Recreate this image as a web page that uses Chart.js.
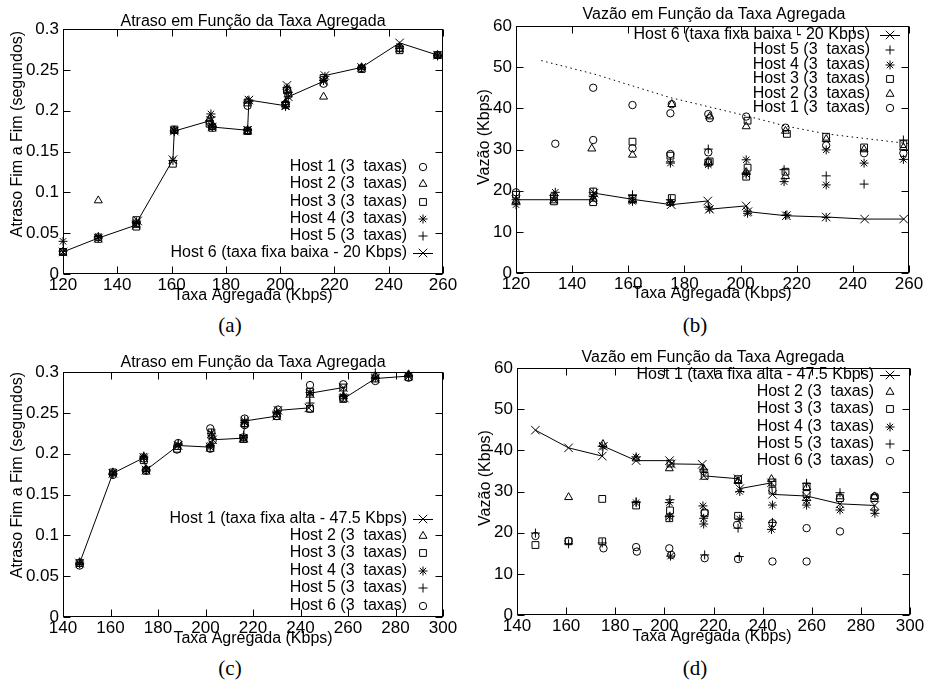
<!DOCTYPE html>
<html><head><meta charset="utf-8">
<script src="https://cdn.jsdelivr.net/npm/chart.js@4/dist/chart.umd.min.js"></script>
<style>
html,body{margin:0;padding:0;background:#fff}
body{width:926px;height:685px;overflow:hidden;position:relative}
canvas{position:absolute}
.cap{position:absolute;font-family:"Liberation Serif","Times New Roman",serif;font-size:21px;color:#000;transform:translate(-50%,-50%);white-space:nowrap}
</style></head><body>
<canvas id="ca" width="463" height="310" style="left:0;top:0"></canvas>
<canvas id="cb" width="463" height="310" style="left:463px;top:0"></canvas>
<canvas id="cc" width="463" height="310" style="left:0;top:340px"></canvas>
<canvas id="cd" width="463" height="310" style="left:463px;top:340px"></canvas>
<div class="cap" style="left:230px;top:325px">(a)</div>
<div class="cap" style="left:695px;top:325px">(b)</div>
<div class="cap" style="left:230px;top:668px">(c)</div>
<div class="cap" style="left:695px;top:668px">(d)</div>
<script>
// ---------- tick labels ----------
const xTicksAB = [120,140,160,180,200,220,240,260];
const xTicksCD = [140,160,180,200,220,240,260,280,300];
const yTicksDelay = [0,0.05,0.1,0.15,0.2,0.25,0.3];
const yTicksRate = [0,10,20,30,40,50,60];

// ---------- texts ----------
const titleDelay = 'Atraso em Função da Taxa Agregada';
const titleRate = 'Vazão em Função da Taxa Agregada';
const xLabel = 'Taxa Agregada (Kbps)';
const yLabelDelay = 'Atraso Fim a Fim (segundos)';
const yLabelRate = 'Vazão (Kbps)';
const labelsLow = ['Host 1 (3  taxas)','Host 2 (3  taxas)','Host 3 (3  taxas)','Host 4 (3  taxas)','Host 5 (3  taxas)','Host 6 (taxa fixa baixa - 20 Kbps)'];
const labelsHigh = ['Host 1 (taxa fixa alta - 47.5 Kbps)','Host 2 (3  taxas)','Host 3 (3  taxas)','Host 4 (3  taxas)','Host 5 (3  taxas)','Host 6 (3  taxas)'];

// ---------- (a) delay, host 6 fixed low ----------
const aH1 = [[120,0.027],[133,0.045],[147,0.062],[161,0.176],[174,0.186],[175,0.181],[188,0.176],[188,0.206],[202,0.208],[203,0.219],[216,0.233],[230,0.252],[244,0.277],[258,0.268]];
const aH2 = [[120,0.027],[133,0.090],[147,0.060],[161,0.175],[174,0.190],[175,0.180],[188,0.175],[188,0.212],[202,0.210],[203,0.225],[216,0.217],[230,0.253],[244,0.275],[258,0.268]];
const aH3 = [[120,0.027],[133,0.043],[147,0.058],[147,0.066],[160.5,0.135],[161,0.177],[174,0.184],[175,0.179],[188,0.175],[188,0.210],[202,0.207],[202.5,0.225],[216,0.240],[230,0.251],[244,0.274],[258,0.268]];
const aH4 = [[120,0.040],[133,0.046],[147,0.063],[160.5,0.139],[161,0.176],[174.5,0.196],[175,0.181],[188,0.177],[188.5,0.213],[202,0.205],[202.5,0.228],[216,0.237],[230,0.253],[244,0.279],[258,0.268]];
const aH5 = [[120,0.028],[133,0.044],[147,0.064],[161,0.174],[174.5,0.192],[175,0.180],[188,0.176],[188.5,0.211],[202,0.210],[203,0.217],[216.5,0.242],[230,0.252],[244,0.276],[258,0.267]];
const aH6 = [[120,0.027],[133,0.044],[147,0.060],[147.5,0.065],[160.5,0.140],[161,0.175],[174.5,0.188],[175,0.180],[188,0.176],[188.5,0.213],[202,0.206],[202.5,0.231],[203,0.217],[216,0.236],[216.5,0.243],[230,0.253],[244,0.283],[258,0.268]];

// ---------- (b) throughput, host 6 fixed low ----------
const bH1 = [[120,19.6],[134,31.4],[147.5,45.0],[147.5,32.3],[161.5,40.8],[161.5,30.3],[175,38.8],[175.5,41.0],[175,28.9],[188.5,38.6],[189,37.6],[188.5,29.3],[202,38.0],[216,35.3],[230.5,31.0],[244,29.1],[258,29.1]];
const bH2 = [[120,17.5],[133.5,17.6],[147,30.2],[147.5,18.0],[161.5,28.7],[161.5,17.6],[175.5,41.0],[175,17.0],[189,38.0],[188.5,27.0],[202,35.6],[202,24.5],[216,34.5],[216,23.5],[230.5,32.5],[244,30.0],[258,30.5]];
const bH3 = [[120,19.0],[133.5,18.4],[133.5,17.4],[147.5,19.8],[147.5,17.2],[161.5,31.9],[161.5,18.0],[175,28.5],[175.5,18.2],[188.5,26.8],[189,27.1],[202,23.4],[202.5,25.6],[202.5,37.0],[216.5,33.8],[216,24.6],[230.5,33.1],[244,30.5],[258,31.3]];
const bH4 = [[120,16.6],[134,19.6],[147.5,18.6],[161.5,17.4],[175,26.7],[175,17.1],[188.5,26.3],[189,15.5],[202,27.5],[202,24.0],[202.5,14.5],[215.5,22.2],[216.5,14.1],[230.5,29.9],[230.5,21.4],[244,26.7],[258,27.6]];
const bH5 = [[120,17.8],[133.5,18.8],[147.5,19.6],[161.5,19.0],[175,17.8],[175,27.0],[188.5,30.1],[188.5,16.0],[202,24.3],[202.5,15.0],[215.5,25.1],[216,14.0],[230.5,23.6],[230.5,13.5],[244,21.6],[258,32.3]];
const bH6 = [[120,17.8],[133.5,17.8],[147.5,17.8],[147.8,19.4],[161.5,17.9],[175.3,16.6],[188.3,17.5],[188.9,15.5],[202,16.3],[202.6,14.9],[216.3,13.9],[230.5,13.6],[244.2,13.1],[258.1,13.1]];
const bRef = [[129,51.6],[148,48.3],[175,42.6],[202,38.2],[216,35.7],[230.5,33.8],[260,31.4]];

// ---------- (c) delay, host 1 fixed high ----------
const cH1 = [[147,0.066],[161,0.176],[174,0.195],[175,0.180],[188.5,0.210],[202,0.208],[203,0.217],[216,0.219],[216.5,0.240],[230,0.246],[230.5,0.253],[243.5,0.256],[244,0.274],[258,0.281],[258.5,0.268],[271.5,0.292],[285.5,0.295]];
const cH2 = [[147,0.067],[161,0.177],[174,0.196],[175,0.181],[188,0.208],[202,0.210],[202.5,0.222],[216,0.217],[216.5,0.236],[230,0.248],[244,0.272],[258,0.270],[271.5,0.295],[285.5,0.297]];
const cH3 = [[147,0.066],[161,0.177],[174,0.192],[175,0.179],[188,0.206],[202,0.207],[202.5,0.226],[216,0.218],[216.5,0.237],[230,0.246],[244,0.255],[244,0.276],[258,0.281],[258,0.267],[271.5,0.292],[285.5,0.294]];
const cH4 = [[147,0.065],[161,0.176],[174,0.197],[175,0.180],[188.5,0.211],[202,0.210],[202.5,0.225],[216,0.220],[216.5,0.238],[230,0.250],[244,0.275],[258,0.270],[271.5,0.293],[285.5,0.295]];
const cH5 = [[147,0.066],[161,0.175],[174,0.195],[175,0.180],[188.5,0.212],[202,0.209],[203,0.218],[216,0.222],[216.5,0.241],[230,0.252],[244,0.262],[258,0.272],[271.5,0.299],[285.5,0.296]];
const cH6 = [[147,0.063],[161,0.174],[174,0.194],[175,0.180],[188,0.205],[188.5,0.213],[202,0.206],[202,0.231],[203,0.216],[216,0.220],[216.5,0.235],[216.5,0.243],[230,0.246],[230.5,0.254],[244,0.255],[244,0.284],[258,0.285],[258,0.268],[271.5,0.289],[285.5,0.293]];

// ---------- (d) throughput, host 1 fixed high ----------
const dH1 = [[147.5,44.9],[161,40.6],[174.7,38.6],[175.2,41.0],[188.5,37.5],[202.1,37.5],[202.8,36.7],[215.4,36.6],[216,33.8],[230,33.1],[230.7,30.7],[243.6,32.1],[244,29.3],[257.9,28.9],[271.5,27.0],[285.7,26.6]];
const dH2 = [[161,28.6],[175,41.5],[188.5,38.0],[202,35.6],[216,35.5],[230,32.5],[243.6,33.0],[258,31.0],[271.5,28.8],[285.5,28.8]];
const dH3 = [[147.5,17.0],[161,17.9],[174.7,17.9],[174.7,28.2],[188.5,26.6],[202.3,25.4],[202,23.5],[202.5,36.8],[216.4,33.8],[216.4,24.7],[230,33.0],[230,24.1],[244,30.2],[244,32.2],[257.9,31.2],[257.9,29.4],[271.5,28.4],[285.5,28.4]];
const dH4 = [[174.7,41.0],[188.5,38.4],[188.5,27.3],[202,27.3],[202,23.9],[202.5,14.3],[215.7,26.5],[216,22.1],[216,23.5],[230.7,30.0],[230.7,23.3],[244,26.7],[243.6,20.8],[257.9,26.7],[257.9,27.8],[271.5,25.5],[285.7,24.7]];
const dH5 = [[147.5,19.9],[161,17.3],[174.7,17.5],[188.5,27.5],[202.3,28.0],[202.3,24.0],[216,35.4],[216.4,14.6],[230,21.1],[230.5,14.2],[244,22.5],[257.9,32.0],[271.5,29.7],[285.5,25.5]];
const dH6 = [[147.5,19.2],[161,18.0],[175.2,16.2],[188.5,16.5],[188.8,15.4],[202,16.2],[202.8,14.6],[216.4,24.9],[216.4,13.8],[229.6,21.9],[230,13.6],[244,22.3],[244,13.0],[257.9,21.1],[257.9,13.0],[271.5,20.3],[285.7,28.8]];

// ---------- styling ----------
const FONT = "'Liberation Sans', Arial, Helvetica, sans-serif";
const INK = '#000';
const RAD = {circle:3.7, triangle:4.6, rect:4.8, star:4.5, cross:4.5, crossRot:6};
const lowStyles = ['circle','triangle','rect','star','cross','crossRot'];
const highStyles = ['crossRot','triangle','rect','star','cross','circle'];

function ds(label, data, style, line) {
  return {
    label: label, data: data, showLine: !!line, pointStyle: style,
    pointRadius: RAD[style], pointHoverRadius: RAD[style],
    borderColor: INK, backgroundColor: 'rgba(0,0,0,0)',
    pointBorderColor: INK, pointBackgroundColor: 'rgba(0,0,0,0)',
    pointBorderWidth: 1, borderWidth: 1, clip: false, tension: 0
  };
}

function drawMarker(ctx, style, x, y, r) {
  ctx.beginPath();
  if (style === 'circle') { ctx.arc(x, y, r, 0, Math.PI*2); }
  else if (style === 'triangle') {
    ctx.moveTo(x, y - r); ctx.lineTo(x + r*0.866, y + r*0.5); ctx.lineTo(x - r*0.866, y + r*0.5); ctx.closePath();
  } else if (style === 'rect') { const s = r*Math.SQRT1_2; ctx.rect(x - s, y - s, 2*s, 2*s); }
  else {
    if (style === 'cross' || style === 'star') { ctx.moveTo(x - r, y); ctx.lineTo(x + r, y); ctx.moveTo(x, y - r); ctx.lineTo(x, y + r); }
    if (style === 'crossRot' || style === 'star') { const o = r*Math.SQRT1_2; ctx.moveTo(x - o, y - o); ctx.lineTo(x + o, y + o); ctx.moveTo(x - o, y + o); ctx.lineTo(x + o, y - o); }
  }
  ctx.stroke();
}

function makeChart(id, cfg) {
  const canvas = document.getElementById(id);
  const W = canvas.width, H = canvas.height, A = cfg.area;
  const gnu = {
    id: 'gnu_' + id,
    afterDraw(chart) {
      const ctx = chart.ctx, a = chart.chartArea, xs = chart.scales.x, ys = chart.scales.y;
      ctx.save();
      ctx.strokeStyle = INK; ctx.lineWidth = 1;
      const L = Math.round(a.left) + 0.5, R = Math.round(a.right) - 0.5, T = Math.round(a.top) + 0.5, B = Math.round(a.bottom) - 0.5;
      ctx.strokeRect(L, T, R - L, B - T);
      const TL = 7;
      ctx.beginPath();
      cfg.xt.forEach(v => { const p = Math.round(xs.getPixelForValue(v)) + 0.5; ctx.moveTo(p, B); ctx.lineTo(p, B - TL); ctx.moveTo(p, T); ctx.lineTo(p, T + TL); });
      cfg.yt.forEach(v => { const p = Math.round(ys.getPixelForValue(v)) + 0.5; ctx.moveTo(L, p); ctx.lineTo(L + TL, p); ctx.moveTo(R, p); ctx.lineTo(R - TL, p); });
      ctx.stroke();
      // titles
      ctx.fillStyle = INK; ctx.font = '16px ' + FONT; ctx.textAlign = 'center'; ctx.textBaseline = 'middle';
      ctx.fillText(cfg.title, cfg.titlePos[0], cfg.titlePos[1]);
      ctx.fillText(xLabel, cfg.xLabelPos[0], cfg.xLabelPos[1]);
      ctx.save(); ctx.translate(cfg.yLabelPos[0], cfg.yLabelPos[1]); ctx.rotate(-Math.PI/2);
      ctx.fillText(cfg.yLabel, 0, 0); ctx.restore();
      // legend
      ctx.textAlign = 'right';
      cfg.legend.order.forEach((idx, i) => {
        const d = chart.data.datasets[idx], yy = cfg.legend.rows[i], mx = cfg.legend.markX;
        ctx.fillText(d.label, cfg.legend.textRight, yy);
        if (d.showLine) { ctx.beginPath(); ctx.moveTo(mx - 10, yy + 0.5); ctx.lineTo(mx + 10, yy + 0.5); ctx.stroke(); }
        drawMarker(ctx, d.pointStyle, mx, yy, d.pointRadius);
      });
      ctx.restore();
    }
  };
  return new Chart(canvas, {
    type: 'scatter',
    data: { datasets: cfg.datasets },
    options: {
      responsive: false, animation: false, devicePixelRatio: 1,
      layout: { padding: { left: 0, top: A.top, right: W - A.right, bottom: 0 } },
      plugins: { legend: { display: false }, tooltip: { enabled: false } },
      scales: {
        x: {
          type: 'linear', min: cfg.xt[0], max: cfg.xt[cfg.xt.length - 1],
          afterBuildTicks: s => { s.ticks = cfg.xt.map(v => ({ value: v })); },
          afterFit: s => { s.height = H - A.bottom; },
          grid: { display: false, drawTicks: false }, border: { display: false },
          ticks: { color: INK, font: { family: FONT, size: 17 }, padding: 1, maxRotation: 0, autoSkip: false, callback: v => String(v) }
        },
        y: {
          type: 'linear', min: cfg.yt[0], max: cfg.yt[cfg.yt.length - 1],
          afterBuildTicks: s => { s.ticks = cfg.yt.map(v => ({ value: v })); },
          afterFit: s => { s.width = A.left; },
          grid: { display: false, drawTicks: false }, border: { display: false },
          ticks: { color: INK, font: { family: FONT, size: 17 }, padding: 4, autoSkip: false, callback: v => String(v) }
        }
      }
    },
    plugins: [gnu]
  });
}

const aSeries = [aH1, aH2, aH3, aH4, aH5, aH6];
const bSeries = [bH1, bH2, bH3, bH4, bH5, bH6];
const cSeries = [cH1, cH2, cH3, cH4, cH5, cH6];
const dSeries = [dH1, dH2, dH3, dH4, dH5, dH6];

const refDs = ds('', bRef, 'circle', true);
refDs.pointRadius = 0; refDs.pointHoverRadius = 0; refDs.borderDash = [1.5, 3.5];

makeChart('ca', {
  area: { left: 63, top: 29, right: 443, bottom: 274 },
  xt: xTicksAB, yt: yTicksDelay, title: titleDelay, yLabel: yLabelDelay,
  titlePos: [253, 22], xLabelPos: [253, 296], yLabelPos: [18, 134],
  datasets: aSeries.map((s, i) => ds(labelsLow[i], s, lowStyles[i], i === 5)),
  legend: { order: [0,1,2,3,4,5], textRight: 407, markX: 423, rows: [167,184,202,219,236,253] }
});
makeChart('cb', {
  area: { left: 53, top: 26, right: 446, bottom: 273 },
  xt: xTicksAB, yt: yTicksRate, title: titleRate, yLabel: yLabelRate,
  titlePos: [251, 15], xLabelPos: [249, 294], yLabelPos: [22, 137],
  datasets: bSeries.map((s, i) => ds(labelsLow[i], s, lowStyles[i], i === 5)).concat([refDs]),
  legend: { order: [5,4,3,2,1,0], textRight: 407, markX: 427, rows: [35,50,65,79,94,108] }
});
makeChart('cc', {
  area: { left: 63, top: 32, right: 443, bottom: 277 },
  xt: xTicksCD, yt: yTicksDelay, title: titleDelay, yLabel: yLabelDelay,
  titlePos: [253, 23], xLabelPos: [253, 299], yLabelPos: [18, 135],
  datasets: cSeries.map((s, i) => ds(labelsHigh[i], s, highStyles[i], i === 0)),
  legend: { order: [0,1,2,3,4,5], textRight: 407, markX: 423, rows: [179,196,213,231,248,266] }
});
makeChart('cd', {
  area: { left: 54, top: 28, right: 447, bottom: 275 },
  xt: xTicksCD, yt: yTicksRate, title: titleRate, yLabel: yLabelRate,
  titlePos: [250, 18], xLabelPos: [249, 297], yLabelPos: [23, 138],
  datasets: dSeries.map((s, i) => ds(labelsHigh[i], s, highStyles[i], i === 0)),
  legend: { order: [0,1,2,3,4,5], textRight: 411, markX: 427, rows: [35,52,69,87,104,121] }
});
</script>
</body></html>
